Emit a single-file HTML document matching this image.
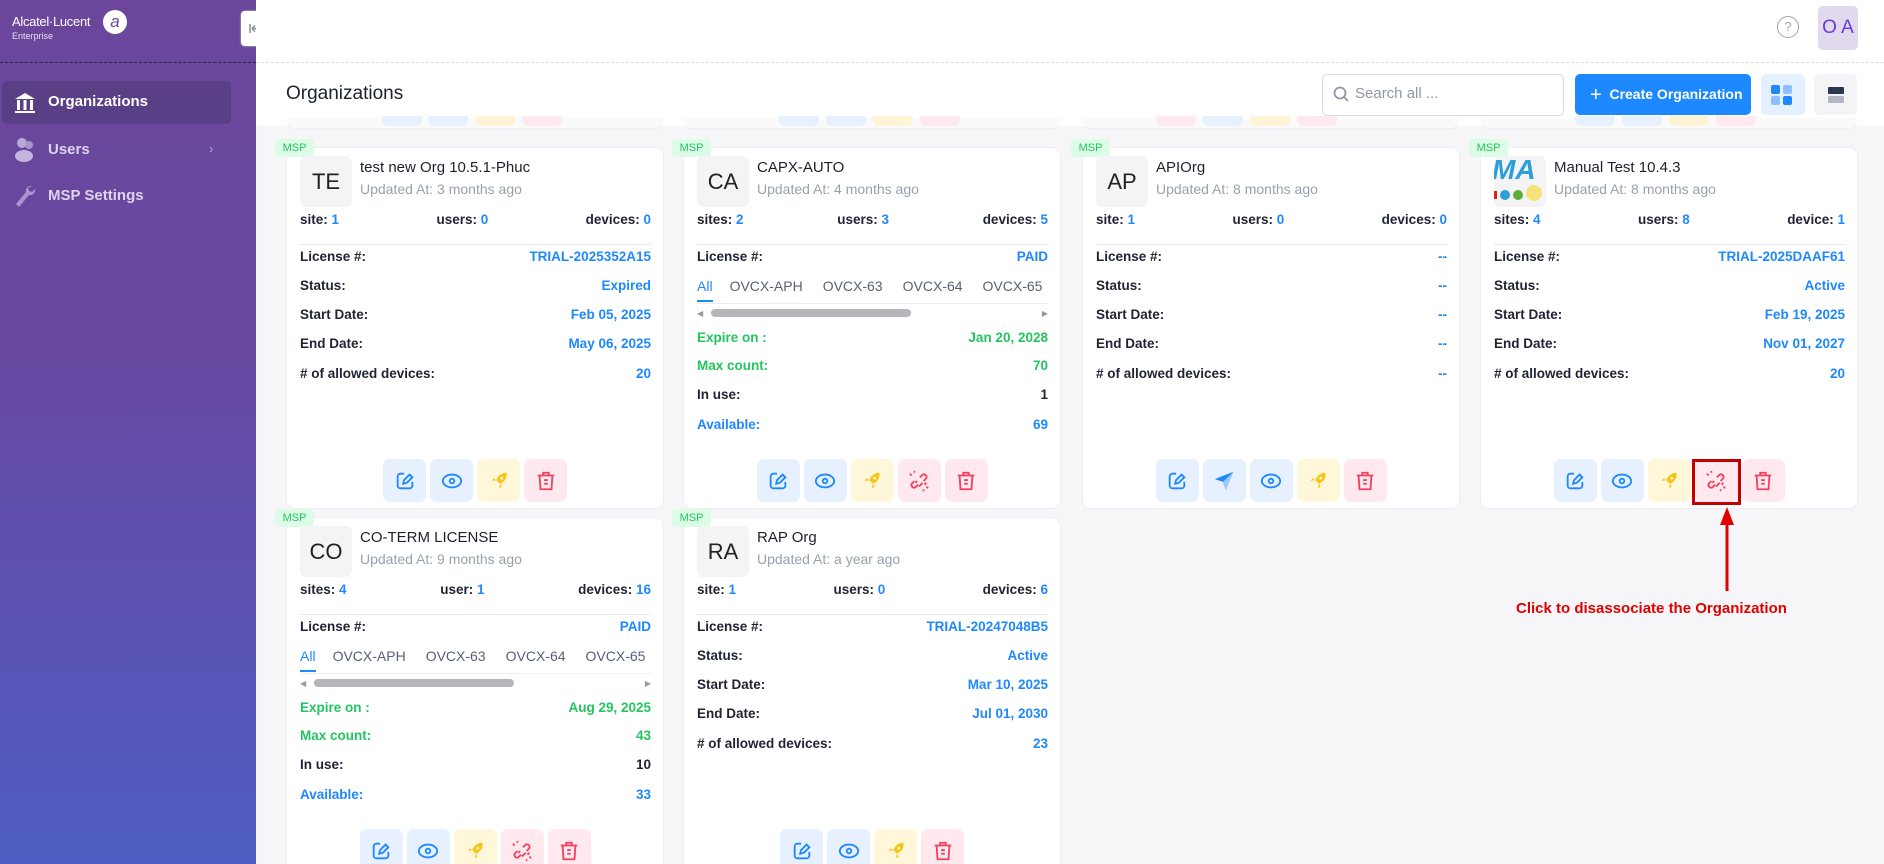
<!DOCTYPE html>
<html style="width:1884px;height:864px;overflow:hidden"><head><meta charset="utf-8"><style>
*{box-sizing:border-box;margin:0;padding:0}
body{width:1884px;height:864px;overflow:hidden;background:#f6f6f8;font-family:"Liberation Sans",sans-serif;position:relative;color:#1f2333}
.sb{position:absolute;left:0;top:0;width:256px;height:864px;background:linear-gradient(180deg,#6b469b 0%,#6748a0 40%,#5a54b6 75%,#4f5ec2 100%)}
.top{position:absolute;left:256px;top:0;right:0;height:126px;background:#fff}
.dash{position:absolute;top:62px;height:0;border-top:1px dashed #d9dbe3}
.card{position:absolute;width:376px;height:360px;background:#fff;border-radius:8px;box-shadow:0 0 0 1px #eceef2}
.msp{position:absolute;left:-12px;top:-9px;width:39px;height:18px;background:#dcfce7;color:#22c55e;font-size:11px;line-height:18px;text-align:center;border-radius:4px}
.av{position:absolute;left:13px;top:8px;width:52px;height:51px;background:#f4f4f6;border-radius:6px;font-size:22px;line-height:51px;text-align:center;color:#222}
.nm{position:absolute;left:73px;top:11px;font-size:15px;color:#1d2030}
.up{position:absolute;left:73px;top:33px;font-size:14px;color:#9aa0ae}
.r{position:absolute;left:13px;right:12px;display:flex;justify-content:space-between;font-weight:bold;font-size:13.5px;height:20px;line-height:20px;color:#1f2333}
.bl{color:#1e88ff}.gr{color:#22c55e}
.dv{position:absolute;left:13px;right:12px;top:96px;border-top:1px solid #e8e9ee}
.tabs{position:absolute;left:13px;right:12px;top:130px;height:26px;font-size:14px;color:#5a6075;white-space:nowrap;overflow:hidden;border-bottom:1px solid #eceef2}
.tabs span{margin-right:20px}
.tabs .a{color:#1e88ff;border-bottom:2px solid #1e88ff;padding-bottom:6px;margin-right:17px}
.sc{position:absolute;left:13px;right:12px;top:160px;height:9px}
.btns{position:absolute;top:311px;left:0;right:0;display:flex;justify-content:center;gap:4px}
.b{width:43px;height:43px;border-radius:7px;display:flex;align-items:center;justify-content:center}
.bb{background:#e6f0ff}.by{background:#fff7d9}.bp{background:#ffe9ef}
.pk{position:absolute;top:116px;height:10px;width:40px;border-radius:0 0 6px 6px}
</style></head><body>
<div class="sb">
 <div style="position:absolute;left:12px;top:14px;color:#fff;font-size:13px;letter-spacing:-0.3px">Alcatel·Lucent</div>
 <div style="position:absolute;left:12px;top:31px;color:#e8e0f5;font-size:9px">Enterprise</div>
 <div style="position:absolute;left:103px;top:10px;width:24px;height:24px;border-radius:50%;background:#fff;color:#6b469b;font-size:17px;font-style:italic;text-align:center;line-height:24px">a</div>
 <div style="position:absolute;left:0;top:62px;width:256px;border-top:1px dashed #2b2340"></div>
 <div style="position:absolute;left:2px;top:81px;width:229px;height:43px;background:#583f86;border-radius:5px"></div>
 <svg style="position:absolute;left:13px;top:91px" width="24" height="24" viewBox="0 0 24 24"><path d="M12 2 L22 8 H2 Z" fill="#fff"/><rect x="4" y="9" width="3" height="10" fill="#fff"/><rect x="10.5" y="9" width="3" height="10" fill="#fff"/><rect x="17" y="9" width="3" height="10" fill="#fff"/><rect x="2" y="20" width="20" height="2" fill="#fff"/></svg>
 <div style="position:absolute;left:48px;top:93px;color:#fff;font-weight:bold;font-size:15px">Organizations</div>
 <svg style="position:absolute;left:14px;top:137px" width="24" height="26" viewBox="0 0 24 26"><circle cx="8" cy="6" r="5" fill="#b9a9d6"/><circle cx="15" cy="8" r="4" fill="#a894cc"/><ellipse cx="10" cy="19" rx="9" ry="6" fill="#c2b4dd"/></svg>
 <div style="position:absolute;left:48px;top:141px;color:#ddd5ee;font-weight:bold;font-size:15px">Users</div>
 <div style="position:absolute;left:209px;top:141px;color:#b7a9d3;font-size:13px">›</div>
 <svg style="position:absolute;left:14px;top:184px" width="22" height="24" viewBox="0 0 22 24"><path d="M18 2 a5 5 0 0 0-6 6 L2 20 l3 3 L15 11 a5 5 0 0 0 6-6 l-3 3-3-1-1-3z" fill="#a995cf"/></svg>
 <div style="position:absolute;left:48px;top:187px;color:#ddd5ee;font-weight:bold;font-size:15px">MSP Settings</div>
</div>
<div style="position:absolute;left:241px;top:11px;width:27px;height:35px;background:#fff;border-radius:4px;box-shadow:0 0 2px #ccc"><svg width="27" height="35"><path d="M9 13v9M11 17.5h8M11 17.5l3-3M11 17.5l3 3" stroke="#8a8f9c" stroke-width="1.5" fill="none"/></svg></div>
<div class="top"></div>
<div class="dash" style="left:256px;right:0"></div>
<div style="position:absolute;left:1777px;top:16px;width:22px;height:22px;border:1.5px solid #a0a4b4;border-radius:50%;color:#a0a4b4;font-size:13px;text-align:center;line-height:19px">?</div>
<div style="position:absolute;left:1818px;top:6px;width:40px;height:44px;background:#e1d9ee;border-radius:5px;color:#6b3ad6;font-size:19px;text-align:center;line-height:44px">O A</div>
<div style="position:absolute;left:286px;top:83px;font-size:19px;color:#1d2030">Organizations</div>
<div style="position:absolute;left:1322px;top:74px;width:242px;height:42px;border:1px solid #d9dbe3;border-radius:5px"></div>
<svg style="position:absolute;left:1333px;top:86px" width="16" height="18" viewBox="0 0 16 18"><circle cx="7" cy="7" r="5.5" stroke="#9096a6" stroke-width="1.8" fill="none"/><path d="M11 11 L15 15" stroke="#9096a6" stroke-width="1.8"/></svg>
<div style="position:absolute;left:1355px;top:85px;font-size:15px;color:#9096a6">Search all ...</div>
<div style="position:absolute;left:1575px;top:74px;width:176px;height:41px;background:#1e88ff;border-radius:5px;color:#fff;font-weight:bold;font-size:14px;line-height:41px;padding-left:15px"><span style="font-size:20px;font-weight:normal;vertical-align:-2px">+</span>&nbsp; Create Organization</div>
<div style="position:absolute;left:1761px;top:74px;width:44px;height:41px;background:#e4efff;border-radius:5px">
 <div style="position:absolute;left:10px;top:11px;width:9px;height:9px;background:#1e88ff;border-radius:2px"></div><div style="position:absolute;left:22px;top:11px;width:9px;height:9px;background:#8ec0ff;border-radius:2px"></div><div style="position:absolute;left:10px;top:22px;width:9px;height:9px;background:#8ec0ff;border-radius:2px"></div><div style="position:absolute;left:22px;top:22px;width:9px;height:9px;background:#1e88ff;border-radius:2px"></div></div>
<div style="position:absolute;left:1814px;top:74px;width:43px;height:41px;background:#f4f4f6;border-radius:5px">
 <div style="position:absolute;left:14px;top:13px;width:16px;height:7px;background:#2d3550;border-radius:1px"></div><div style="position:absolute;left:14px;top:22px;width:16px;height:7px;background:#b5b8c2;border-radius:1px"></div></div>
<!-- peeks -->
<div style="position:absolute;left:287px;top:118px;width:376px;height:10px;background:#fafafa;border-radius:0 0 8px 8px;box-shadow:0 1px 0 #eceef2"></div>
<div style="position:absolute;left:684px;top:118px;width:376px;height:10px;background:#fafafa;border-radius:0 0 8px 8px;box-shadow:0 1px 0 #eceef2"></div>
<div style="position:absolute;left:1083px;top:118px;width:376px;height:10px;background:#fafafa;border-radius:0 0 8px 8px;box-shadow:0 1px 0 #eceef2"></div>
<div style="position:absolute;left:1481px;top:118px;width:376px;height:10px;background:#fafafa;border-radius:0 0 8px 8px;box-shadow:0 1px 0 #eceef2"></div>
<div class="pk" style="left:382px;background:#e6f0ff"></div><div class="pk" style="left:428px;background:#e6f0ff"></div><div class="pk" style="left:475px;background:#fff4d6"></div><div class="pk" style="left:522px;background:#ffe9ef"></div>
<div class="pk" style="left:779px;background:#e6f0ff"></div><div class="pk" style="left:826px;background:#e6f0ff"></div><div class="pk" style="left:873px;background:#fff4d6"></div><div class="pk" style="left:920px;background:#ffe9ef"></div>
<div class="pk" style="left:1203px;background:#e6f0ff"></div><div class="pk" style="left:1250px;background:#fff4d6"></div><div class="pk" style="left:1297px;background:#ffe9ef"></div><div class="pk" style="left:1156px;background:#ffe9ef"></div>
<div class="pk" style="left:1575px;background:#e6f0ff"></div><div class="pk" style="left:1622px;background:#e6f0ff"></div><div class="pk" style="left:1669px;background:#fff4d6"></div><div class="pk" style="left:1716px;background:#ffe9ef"></div>

<svg width="0" height="0" style="position:absolute"><defs>
<symbol id="ed" viewBox="0 0 24 24"><path d="M11 4H7a3 3 0 0 0-3 3v10a3 3 0 0 0 3 3h10a3 3 0 0 0 3-3v-4" stroke="#1e88ff" stroke-width="2" fill="none"/><path d="M10 15l1-4 6-6 2 2 1 1-6 6z" stroke="#1e88ff" stroke-width="2" fill="none"/></symbol>
<symbol id="ey" viewBox="0 0 24 24"><ellipse cx="12" cy="12" rx="10" ry="7" stroke="#1e88ff" stroke-width="2" fill="none"/><circle cx="12" cy="12" r="2.5" stroke="#1e88ff" stroke-width="2" fill="none"/></symbol>
<symbol id="rk" viewBox="0 0 24 24"><path d="M20 3c-5 0-9 3-11 8l4 4c5-2 8-6 7-12z" fill="#f5c518"/><path d="M9 11 L4 12 L6 9z M13 15 L12 20 L15 18z" fill="#f5c518"/><circle cx="15" cy="9" r="1.5" fill="#fff7d9"/></symbol>
<symbol id="ul" viewBox="0 0 24 24"><path d="M9 14l-3 3a3 3 0 0 1-4-4l3-3M15 10l3-3a3 3 0 0 0-4-4l-3 3M8 10l-2 2M16 14l2-2M10 16l4-4" stroke="#f43f5e" stroke-width="2" fill="none" transform="translate(2,2)"/><path d="M4 6l-2-2M20 18l2 2M7 3v-2M17 21v2" stroke="#f43f5e" stroke-width="1.8"/></symbol>
<symbol id="tr" viewBox="0 0 24 24"><path d="M3 6h18M9 6V3h6v3M5 6l1 15h12l1-15M10 11h4M10 15h4" stroke="#f43f5e" stroke-width="2" fill="none"/></symbol>
<symbol id="sd" viewBox="0 0 24 24"><path d="M2 10 L22 2 L14 22 L11 13z" fill="#1e88ff"/><path d="M11 13 L22 2 L14 22z" fill="#9cc8ff"/></symbol>
</defs></svg>

<div class="card" style="left:287px;top:148px">
 <div class="msp">MSP</div><div class="av">TE</div>
 <div class="nm">test new Org 10.5.1-Phuc</div><div class="up">Updated At: 3 months ago</div>
 <div class="r" style="top:62px"><span>site: <span class="bl">1</span></span><span>users: <span class="bl">0</span></span><span>devices: <span class="bl">0</span></span></div>
 <div class="dv"></div>
 <div class="r" style="top:99px"><span>License #:</span><span class="bl">TRIAL-2025352A15</span></div>
 <div class="r" style="top:128px"><span>Status:</span><span class="bl">Expired</span></div>
 <div class="r" style="top:157px"><span>Start Date:</span><span class="bl">Feb 05, 2025</span></div>
 <div class="r" style="top:186px"><span>End Date:</span><span class="bl">May 06, 2025</span></div>
 <div class="r" style="top:216px"><span># of allowed devices:</span><span class="bl">20</span></div>
 <div class="btns"><div class="b bb"><svg width="22" height="22"><use href="#ed"/></svg></div><div class="b bb"><svg width="22" height="22"><use href="#ey"/></svg></div><div class="b by"><svg width="22" height="22"><use href="#rk"/></svg></div><div class="b bp"><svg width="22" height="22"><use href="#tr"/></svg></div></div>
</div>
<div class="card" style="left:684px;top:148px">
 <div class="msp">MSP</div><div class="av">CA</div>
 <div class="nm">CAPX-AUTO</div><div class="up">Updated At: 4 months ago</div>
 <div class="r" style="top:62px"><span>sites: <span class="bl">2</span></span><span>users: <span class="bl">3</span></span><span>devices: <span class="bl">5</span></span></div>
 <div class="dv"></div>
 <div class="r" style="top:99px"><span>License #:</span><span class="bl">PAID</span></div>
 <div class="tabs"><span class="a">All</span><span>OVCX-APH</span><span>OVCX-63</span><span>OVCX-64</span><span>OVCX-65</span><span>OVCX-66</span></div>
 <div class="sc"><span style="position:absolute;left:0;top:1px;color:#999;font-size:8px">◀</span><div style="position:absolute;left:14px;top:1px;width:200px;height:8px;background:#b4b6bc;border-radius:4px"></div><span style="position:absolute;right:0;top:1px;color:#999;font-size:8px">▶</span></div>
 <div class="r gr" style="top:180px"><span>Expire on :</span><span>Jan 20, 2028</span></div>
 <div class="r gr" style="top:208px"><span>Max count:</span><span>70</span></div>
 <div class="r" style="top:237px"><span>In use:</span><span>1</span></div>
 <div class="r bl" style="top:267px"><span>Available:</span><span>69</span></div>
 <div class="btns"><div class="b bb"><svg width="22" height="22"><use href="#ed"/></svg></div><div class="b bb"><svg width="22" height="22"><use href="#ey"/></svg></div><div class="b by"><svg width="22" height="22"><use href="#rk"/></svg></div><div class="b bp"><svg width="22" height="22"><use href="#ul"/></svg></div><div class="b bp"><svg width="22" height="22"><use href="#tr"/></svg></div></div>
</div>
<div class="card" style="left:1083px;top:148px">
 <div class="msp">MSP</div><div class="av">AP</div>
 <div class="nm">APIOrg</div><div class="up">Updated At: 8 months ago</div>
 <div class="r" style="top:62px"><span>site: <span class="bl">1</span></span><span>users: <span class="bl">0</span></span><span>devices: <span class="bl">0</span></span></div>
 <div class="dv"></div>
 <div class="r" style="top:99px"><span>License #:</span><span class="bl">--</span></div>
 <div class="r" style="top:128px"><span>Status:</span><span class="bl">--</span></div>
 <div class="r" style="top:157px"><span>Start Date:</span><span class="bl">--</span></div>
 <div class="r" style="top:186px"><span>End Date:</span><span class="bl">--</span></div>
 <div class="r" style="top:216px"><span># of allowed devices:</span><span class="bl">--</span></div>
 <div class="btns"><div class="b bb"><svg width="22" height="22"><use href="#ed"/></svg></div><div class="b bb"><svg width="22" height="22"><use href="#sd"/></svg></div><div class="b bb"><svg width="22" height="22"><use href="#ey"/></svg></div><div class="b by"><svg width="22" height="22"><use href="#rk"/></svg></div><div class="b bp"><svg width="22" height="22"><use href="#tr"/></svg></div></div>
</div>
<div class="card" style="left:1481px;top:148px">
 <div class="msp">MSP</div>
 <div class="av" style="background:#f4f4f6;overflow:hidden"><span style="position:absolute;left:-2px;top:-12px;font-size:28px;font-weight:bold;color:#2a9fd8;font-style:italic">MA</span><span style="position:absolute;left:6px;top:34px;width:10px;height:10px;border-radius:50%;background:#2a9fd8"></span><span style="position:absolute;left:19px;top:34px;width:10px;height:10px;border-radius:50%;background:#5fae3b"></span><span style="position:absolute;left:32px;top:29px;width:16px;height:16px;border-radius:50%;background:#f5e27a"></span><span style="position:absolute;left:0;top:35px;width:3px;height:8px;background:#e02020"></span></div>
 <div class="nm">Manual Test 10.4.3</div><div class="up">Updated At: 8 months ago</div>
 <div class="r" style="top:62px"><span>sites: <span class="bl">4</span></span><span>users: <span class="bl">8</span></span><span>device: <span class="bl">1</span></span></div>
 <div class="dv"></div>
 <div class="r" style="top:99px"><span>License #:</span><span class="bl">TRIAL-2025DAAF61</span></div>
 <div class="r" style="top:128px"><span>Status:</span><span class="bl">Active</span></div>
 <div class="r" style="top:157px"><span>Start Date:</span><span class="bl">Feb 19, 2025</span></div>
 <div class="r" style="top:186px"><span>End Date:</span><span class="bl">Nov 01, 2027</span></div>
 <div class="r" style="top:216px"><span># of allowed devices:</span><span class="bl">20</span></div>
 <div class="btns"><div class="b bb"><svg width="22" height="22"><use href="#ed"/></svg></div><div class="b bb"><svg width="22" height="22"><use href="#ey"/></svg></div><div class="b by"><svg width="22" height="22"><use href="#rk"/></svg></div><div class="b bp"><svg width="22" height="22"><use href="#ul"/></svg></div><div class="b bp"><svg width="22" height="22"><use href="#tr"/></svg></div></div>
</div>
<div class="card" style="left:287px;top:518px;height:346px;border-radius:8px 8px 0 0">
 <div class="msp">MSP</div><div class="av">CO</div>
 <div class="nm">CO-TERM LICENSE</div><div class="up">Updated At: 9 months ago</div>
 <div class="r" style="top:62px"><span>sites: <span class="bl">4</span></span><span>user: <span class="bl">1</span></span><span>devices: <span class="bl">16</span></span></div>
 <div class="dv"></div>
 <div class="r" style="top:99px"><span>License #:</span><span class="bl">PAID</span></div>
 <div class="tabs"><span class="a">All</span><span>OVCX-APH</span><span>OVCX-63</span><span>OVCX-64</span><span>OVCX-65</span><span>OVCX-66</span></div>
 <div class="sc"><span style="position:absolute;left:0;top:1px;color:#999;font-size:8px">◀</span><div style="position:absolute;left:14px;top:1px;width:200px;height:8px;background:#b4b6bc;border-radius:4px"></div><span style="position:absolute;right:0;top:1px;color:#999;font-size:8px">▶</span></div>
 <div class="r gr" style="top:180px"><span>Expire on :</span><span>Aug 29, 2025</span></div>
 <div class="r gr" style="top:208px"><span>Max count:</span><span>43</span></div>
 <div class="r" style="top:237px"><span>In use:</span><span>10</span></div>
 <div class="r bl" style="top:267px"><span>Available:</span><span>33</span></div>
 <div class="btns"><div class="b bb"><svg width="22" height="22"><use href="#ed"/></svg></div><div class="b bb"><svg width="22" height="22"><use href="#ey"/></svg></div><div class="b by"><svg width="22" height="22"><use href="#rk"/></svg></div><div class="b bp"><svg width="22" height="22"><use href="#ul"/></svg></div><div class="b bp"><svg width="22" height="22"><use href="#tr"/></svg></div></div>
</div>
<div class="card" style="left:684px;top:518px;height:346px;border-radius:8px 8px 0 0">
 <div class="msp">MSP</div><div class="av">RA</div>
 <div class="nm">RAP Org</div><div class="up">Updated At: a year ago</div>
 <div class="r" style="top:62px"><span>site: <span class="bl">1</span></span><span>users: <span class="bl">0</span></span><span>devices: <span class="bl">6</span></span></div>
 <div class="dv"></div>
 <div class="r" style="top:99px"><span>License #:</span><span class="bl">TRIAL-20247048B5</span></div>
 <div class="r" style="top:128px"><span>Status:</span><span class="bl">Active</span></div>
 <div class="r" style="top:157px"><span>Start Date:</span><span class="bl">Mar 10, 2025</span></div>
 <div class="r" style="top:186px"><span>End Date:</span><span class="bl">Jul 01, 2030</span></div>
 <div class="r" style="top:216px"><span># of allowed devices:</span><span class="bl">23</span></div>
 <div class="btns"><div class="b bb"><svg width="22" height="22"><use href="#ed"/></svg></div><div class="b bb"><svg width="22" height="22"><use href="#ey"/></svg></div><div class="b by"><svg width="22" height="22"><use href="#rk"/></svg></div><div class="b bp"><svg width="22" height="22"><use href="#tr"/></svg></div></div>
</div>
<div style="position:absolute;left:1692px;top:459px;width:49px;height:46px;border:3px solid #c40000"></div>
<svg style="position:absolute;left:1717px;top:505px" width="20" height="86" viewBox="0 0 20 86"><path d="M10 18 V86" stroke="#e00000" stroke-width="3"/><path d="M10 2 L3 20 L17 20z" fill="#e00000"/></svg>
<div style="position:absolute;left:1516px;top:600px;color:#e00000;font-weight:bold;font-size:15px;white-space:nowrap">Click to disassociate the Organization</div>
</body></html>
